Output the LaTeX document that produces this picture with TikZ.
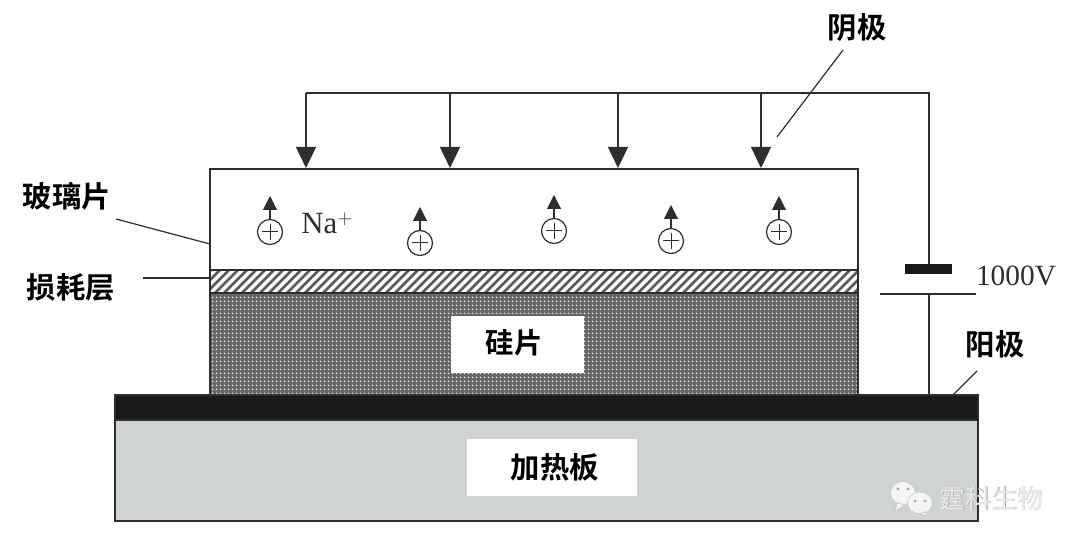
\documentclass[tikz,border=0pt]{standalone}
\usepackage{fontspec}
\setmainfont{Liberation Serif}
\newfontfamily\cjk{Noto Sans CJK SC Bold}
\newfontfamily\cjklight{Noto Sans CJK SC}
\usetikzlibrary{arrows.meta,patterns}
\definecolor{ink}{HTML}{2E2E2E}
\definecolor{plategray}{HTML}{D0D3D3}
\definecolor{sigray}{HTML}{666666}
\pgfdeclarepatternformonly{sidots}{\pgfqpoint{-1.8bp}{-1.8bp}}{\pgfqpoint{1.8bp}{1.8bp}}{\pgfqpoint{3.6bp}{3.6bp}}{%
  \pgfpathcircle{\pgfqpoint{0bp}{0bp}}{1.05bp}\pgfusepath{fill}}
\tikzset{
  layer/.style={draw=ink,line width=1.4bp,anchor=north west,inner sep=0pt,outer sep=0pt},
  wire/.style={draw=ink,line width=1.3bp},
  feed/.style={wire,-{Triangle[length=21bp,width=20bp]}},
  lead/.style={draw=ink,line width=1.2bp},
  ion/.style={circle,draw=ink,line width=1.2bp,minimum size=25bp,inner sep=0pt,
    path picture={\draw[ink,line width=1bp]
      ([xshift=-8bp]path picture bounding box.center)--([xshift=8bp]path picture bounding box.center)
      ([yshift=-8bp]path picture bounding box.center)--([yshift=8bp]path picture bounding box.center);}},
  up/.style={draw=ink,line width=1.1bp,-{Triangle[length=14bp,width=14bp]}},
  lab/.style={font=\cjk\fontsize{29.5}{31}\selectfont,text=black,inner sep=0pt},
  serif/.style={text=ink,inner sep=0pt},
  whitebox/.style={fill=white,inner sep=0pt},
}
\begin{document}
\begin{tikzpicture}[x=1bp,y=-1bp]
\useasboundingbox (0,0) rectangle (1080,548);
\fill[white] (0,0) rectangle (1080,548);
% layers
\node[layer,fill=white,minimum width=648bp,minimum height=101bp] (glass) at (210,169) {};
\node[layer,fill=white,minimum width=648bp,minimum height=23bp] (loss) at (210,270) {};
\begin{scope}
\clip (210,270) rectangle (858,293);
\foreach \i in {0,9,...,700}{\draw[black!65,line width=2.6bp] (185+\i,296)--(213+\i,268);}
\end{scope}
\draw[ink,line width=1.4bp] (210,270) rectangle (858,293);
\node[layer,fill=sigray,minimum width=648bp,minimum height=102bp] (si) at (210,293) {};
\fill[pattern=sidots,pattern color=white!85!sigray] (210,293) rectangle (858,395);
\draw[ink,line width=1.4bp] (210,293) rectangle (858,395);
\node[layer,fill=plategray,minimum width=863bp,minimum height=101bp] (heat) at (115,420) {};
\node[layer,fill=black!90,minimum width=863bp,minimum height=25bp] (anode) at (115,395) {};
\node[whitebox,minimum width=133bp,minimum height=57bp] (silab) at (517.5,344.5) {};
\node[lab,font=\cjk\fontsize{28.5}{30}\selectfont] at (514,343) {硅片};
\node[whitebox,minimum width=170bp,minimum height=57bp] (heatlab) at (552,467.5) {};
\node[lab] at (555,467) {加热板};
% wires
\coordinate (a1) at (306,93); \coordinate (a2) at (450,93);
\coordinate (a3) at (618,93); \coordinate (a4) at (761,93);
\coordinate (corner) at (929,93);
\coordinate (t1) at (306,168); \coordinate (t2) at (450,168);
\coordinate (t3) at (618,168); \coordinate (t4) at (761,168);
\node[fill=black!90,minimum width=47bp,minimum height=10bp,inner sep=0pt] (batp) at (928.5,269) {};
\coordinate (batnL) at (880,294); \coordinate (batnR) at (976,294);
\coordinate (batn) at (929,294); \coordinate (anodetop) at (929,395);
\draw[wire] (a1)--(corner)--(batp.north -| corner);
\draw[wire] (batnL)--(batnR);
\draw[wire] (batn)--(anodetop);
\foreach \a/\t in {a1/t1,a2/t2,a3/t3,a4/t4}{\draw[feed] (\a)--(\t);}
% ions
\foreach \n/\x/\y in {i1/270/232,i2/420/243,i3/554/231,i4/671/241,i5/779/232}{
  \node[ion] (\n) at (\x,\y) {};
  \coordinate (\n t) at (\x,\y-36);
  \draw[up] (\n.north)--(\n t);
}
% labels
\node[serif,font=\fontsize{31}{33}\selectfont] (na) at (327,223) {Na$^{+}$};
\node[serif,font=\fontsize{29.5}{31}\selectfont] (volt) at (1016,276) {1000V};
\node[lab] (cath) at (857,28) {阴极};
\node[lab] (gl) at (67,196) {玻璃片};
\node[lab] (ls) at (71,287) {损耗层};
\node[lab] (an) at (995,344) {阳极};
% leaders
\coordinate (c1) at (843,50); \coordinate (c2) at (777,137);
\coordinate (g1) at (116,219); \coordinate (g2) at (210,244);
\coordinate (l1) at (143,278); \coordinate (l2) at (210,278);
\coordinate (n1) at (977,371); \coordinate (n2) at (953,395);
\draw[lead] (c1)--(c2); \draw[lead] (g1)--(g2); \draw[lead] (l1)--(l2); \draw[lead] (n1)--(n2);
% watermark
\begin{scope}[draw=gray!45,line width=0.6bp,fill=white!96!black]
\filldraw (903,493) ellipse (12.5bp and 11.5bp);
\filldraw (897,503)--(895,511)--(905,505)--cycle;
\filldraw (920,503) ellipse (12.5bp and 11bp);
\filldraw (925,512)--(930,516)--(919,514)--cycle;
\fill[gray!70] (898,489) circle (1.6bp) (908,489) circle (1.6bp) (915,501) circle (1.5bp) (925,501) circle (1.5bp);
\end{scope}
\node[font=\cjklight\fontsize{26}{28}\selectfont,text=gray!70,inner sep=0pt] (wm) at (992,499) {霆科生物};
\node[font=\cjklight\fontsize{26}{28}\selectfont,text=white!92!black,inner sep=0pt] at (991.2,498.2) {霆科生物};
\end{tikzpicture}
\end{document}
